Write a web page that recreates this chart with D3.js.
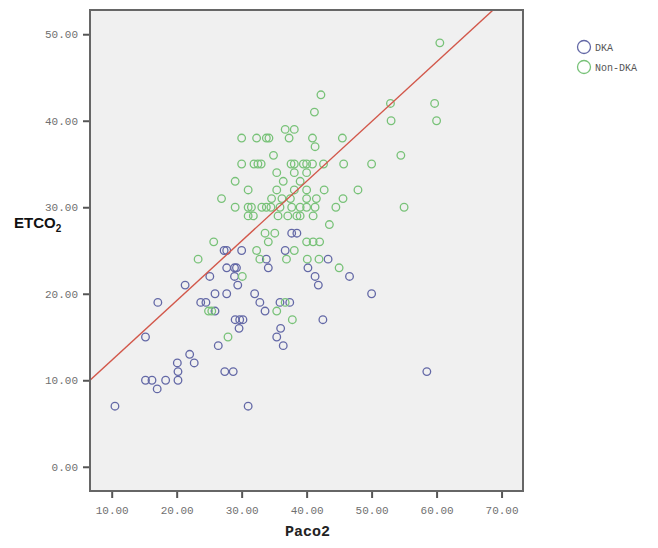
<!DOCTYPE html>
<html>
<head>
<meta charset="utf-8">
<script src="https://cdn.jsdelivr.net/npm/d3@7"></script>
<style>
  body { margin: 0; background: #fff; }
  .tick text { font-family: "Liberation Mono", "DejaVu Sans Mono", monospace; font-size: 11px; fill: #707070; }
  .mono { font-family: "Liberation Mono", "DejaVu Sans Mono", monospace; }
</style>
</head>
<body>
<div id="chart"></div>
<script>
// Paco2 vs ETCO2 scatter, two groups + fit line

const xTicks = [10, 20, 30, 40, 50, 60, 70];
const yTicks = [0, 10, 20, 30, 40, 50];
const groups = ["DKA", "Non-DKA"];

// [Paco2, ETCO2]
const dka = [
  [10.5,7],[15.2,10],[16.2,10],[17,9],[18.3,10],[20.2,10],[20.1,12],[20.2,11],
  [22,13],[22.7,12],[15.2,15],[17.1,19],[21.3,21],[26.4,14],[27.4,11],[28.7,11],
  [31,7],[23.7,19],[24.5,19],[25.9,20],[27.7,20],[25.1,22],[27.3,25],[27.7,25],
  [30,25],[27.7,23],[28.9,23],[29.2,23],[28.9,22],[29.4,21],[29,17],[29.7,17],
  [30.2,17],[29.6,16],[25.9,18],[33.8,24],[34.1,23],[32,20],[32.8,19],[33.6,18],
  [35.4,15],[36,16],[36.4,14],[35.9,19],[37.4,19],[37.7,27],[38.5,27],[36.7,25],
  [40.2,23],[41.3,22],[41.8,21],[43.3,24],[46.6,22],[50,20],[58.5,11],[42.5,17]
];
const nonDka = [
  [23.3,24],[25.7,26],[27.9,15],[24.9,18],[25.4,18],[30.1,22],[32.3,25],[32.8,24],
  [33.6,27],[35.1,27],[34.1,26],[35.4,18],[36.7,19],[37.8,17],[36.9,24],[38.1,25],
  [40.1,24],[41.9,24],[45,23],[40,26],[41,26],[42,26],
  [42.2,43],[41.2,41],[36.7,39],[38.1,39],[30,38],[32.3,38],[33.8,38],[34.2,38],
  [37.3,38],[40.9,38],[41.3,37],[45.5,38],[34.9,36],
  [30,35],[31.9,35],[32.5,35],[33,35],[37.6,35],[38.1,35],[39.5,35],[40,35],
  [40.9,35],[42.6,35],[45.7,35],[50,35],
  [35.4,34],[38.1,34],[40,34],[29,33],[36.4,33],[39,33],
  [31,32],[35.4,32],[38.1,32],[40,32],[42.7,32],[47.9,32],
  [26.9,31],[34.6,31],[36.2,31],[37.5,31],[40,31],[41.5,31],[45.6,31],
  [29,30],[31,30],[31.5,30],[33.1,30],[33.8,30],[34.5,30],[35.9,30],[37.7,30],
  [39,30],[40,30],[41.3,30],[44.5,30],[55,30],
  [31,29],[31.8,29],[35.6,29],[37.1,29],[38.5,29],[39,29],[41,29],[43.5,28],
  [60.5,49],[52.9,42],[59.7,42],[53,40],[60,40],[54.5,36]
];

// linear fit: ETCO2 = a + b * Paco2
const fitIntercept = 5.4;
const fitSlope = 0.69;

const W = 658, H = 548;
const plot = {left: 90, top: 10, right: 523, bottom: 491};
const colors = {"DKA": "#6368a6", "Non-DKA": "#78c278"};

const svg = d3.select("#chart").append("svg")
    .attr("width", W)
    .attr("height", H);

const x = d3.scaleLinear().domain([6.66, 73.3]).range([plot.left, plot.right]);
const y = d3.scaleLinear().domain([-2.8, 52.8]).range([plot.bottom, plot.top]);

svg.append("rect")
    .attr("x", plot.left).attr("y", plot.top)
    .attr("width", plot.right - plot.left)
    .attr("height", plot.bottom - plot.top)
    .attr("fill", "#f0f0f0");

svg.append("clipPath").attr("id", "clip")
  .append("rect")
    .attr("x", plot.left).attr("y", plot.top)
    .attr("width", plot.right - plot.left)
    .attr("height", plot.bottom - plot.top);

// axes
const xAxis = svg.append("g")
    .attr("transform", `translate(0,${plot.bottom})`)
    .call(d3.axisBottom(x).tickValues(xTicks).tickFormat(d3.format(".2f")).tickSize(7).tickPadding(8));
const yAxis = svg.append("g")
    .attr("transform", `translate(${plot.left},0)`)
    .call(d3.axisLeft(y).tickValues(yTicks).tickFormat(d3.format(".2f")).tickSize(7).tickPadding(5));
[xAxis, yAxis].forEach(a => {
  a.select(".domain").remove();
  a.selectAll(".tick line").attr("stroke", "#555").attr("stroke-width", 2);
});

// points
const g = svg.append("g").attr("clip-path", "url(#clip)");
[[dka, "DKA"], [nonDka, "Non-DKA"]].forEach(([data, name]) => {
  g.selectAll(null)
    .data(data)
    .join("circle")
      .attr("cx", d => x(d[0]))
      .attr("cy", d => y(d[1]))
      .attr("r", 3.8)
      .attr("fill", "none")
      .attr("stroke", colors[name])
      .attr("stroke-width", 1.3);
});

// fit line
const xd = x.domain();
g.append("line")
    .attr("x1", x(xd[0])).attr("y1", y(fitIntercept + fitSlope * xd[0]))
    .attr("x2", x(xd[1])).attr("y2", y(fitIntercept + fitSlope * xd[1]))
    .attr("stroke", "#d2574a")
    .attr("stroke-width", 1.4);

// frame
svg.append("rect")
    .attr("x", plot.left).attr("y", plot.top)
    .attr("width", plot.right - plot.left)
    .attr("height", plot.bottom - plot.top)
    .attr("fill", "none")
    .attr("stroke", "#666")
    .attr("stroke-width", 2);

// axis titles
svg.append("text")
    .attr("class", "mono")
    .attr("x", (plot.left + plot.right) / 2 + 1)
    .attr("y", 536)
    .attr("text-anchor", "middle")
    .style("font-weight", "bold")
    .style("font-size", "15px")
    .attr("fill", "#222")
    .text("Paco2");

const yt = svg.append("text")
    .attr("x", 14)
    .attr("y", 228)
    .style("font-family", "Arial, 'Liberation Sans', sans-serif")
    .style("font-weight", "bold")
    .style("font-size", "15px")
    .attr("fill", "#111")
    .text("ETCO");
yt.append("tspan")
    .attr("dy", 4)
    .style("font-size", "10px")
    .text("2");

// legend
const leg = svg.append("g").attr("transform", "translate(584,47)");
groups.forEach((name, i) => {
  const row = leg.append("g").attr("transform", `translate(0,${i * 20})`);
  row.append("circle")
      .attr("r", 6.5)
      .attr("fill", "none")
      .attr("stroke", colors[name])
      .attr("stroke-width", 1.3);
  row.append("text")
      .attr("class", "mono")
      .attr("x", 11)
      .attr("y", 3.5)
      .style("font-size", "10px")
      .attr("fill", "#555")
      .text(name);
});
</script>
</body>
</html>
